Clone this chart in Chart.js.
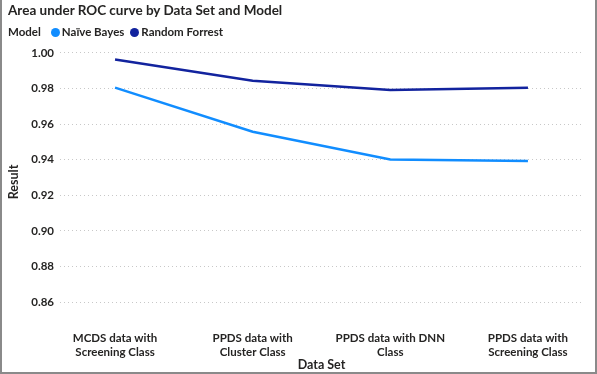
<!DOCTYPE html>
<html>
<head>
<meta charset="utf-8">
<script src="https://cdn.jsdelivr.net/npm/chart.js@4/dist/chart.umd.min.js"></script>
<style>
  body { margin: 0; background: #fff; }
  #wrap { position: relative; width: 597px; height: 374px; box-sizing: border-box; border-left: 2px solid #8a8a8a; border-right: 2px solid #8a8a8a; border-bottom: 2px solid #8a8a8a; font-family: Lato, sans-serif; }
  #title { position: absolute; left: 6px; top: 2px; font-size: 13.5px; font-weight: 700; color: #252423; white-space: nowrap; }
  #legend { position: absolute; left: 6px; top: 25px; font-size: 11.5px; font-weight: 700; color: #252423; white-space: nowrap; }
  #legend span.dot { display: inline-block; width: 9px; height: 9px; border-radius: 50%; vertical-align: -1px; margin-right: 2px; }
  #legend .item { margin-left: 6px; }
  #legend .first { margin-left: 10px; }
  canvas { position: absolute; left: 0; top: 0; }
</style>
</head>
<body>
<div id="wrap">
  <canvas id="grafico" width="593" height="372"></canvas>
  <div id="title">Area under ROC curve by Data Set and Model</div>
  <div id="legend"></div>
</div>
<script>
var categorias = [
  ["MCDS data with", "Screening Class"],
  ["PPDS data with", "Cluster Class"],
  ["PPDS data with DNN", "Class"],
  ["PPDS data with", "Screening Class"]
];
var naive_bayes = [0.9805, 0.9557, 0.9402, 0.9393];
var random_forrest = [0.9963, 0.9843, 0.9792, 0.9804];
var ticks_y = [0.86, 0.88, 0.90, 0.92, 0.94, 0.96, 0.98, 1.00];
var series = [
  { nombre: "Naïve Bayes", color: "#118DFF", datos: naive_bayes },
  { nombre: "Random Forrest", color: "#12239E", datos: random_forrest }
];

var leyenda = document.getElementById('legend');
var html = 'Model';
series.forEach(function (s, i) {
  html += '<span class="item' + (i == 0 ? ' first' : '') + '"><span class="dot" style="background:' + s.color + '"></span>' + s.nombre + '</span>';
});
leyenda.innerHTML = html;

var ctx = document.getElementById('grafico').getContext('2d');
var fuente = { family: "Lato, sans-serif", size: 11.5, weight: '700', lineHeight: 1.15 };
var fuente_titulo = { family: "Lato, sans-serif", size: 12.5, weight: '700' };

var chart_roc = new Chart(ctx, {
  type: 'line',
  data: {
    datasets: series.map(function (s) {
      return {
        label: s.nombre,
        data: s.datos.map(function (v, i) { return { x: i, y: v }; }),
        borderColor: s.color,
        backgroundColor: s.color,
        borderWidth: 2.5,
        pointRadius: 0,
        fill: false,
        tension: 0
      };
    })
  },
  options: {
    responsive: false,
    animation: false,
    layout: { padding: { left: 4, right: 12, top: 44, bottom: 0 } },
    plugins: { legend: { display: false }, tooltip: { enabled: false } },
    scales: {
      x: {
        type: 'linear',
        min: -0.4,
        max: 3.4,
        afterBuildTicks: function (axis) {
          axis.ticks = categorias.map(function (c, i) { return { value: i }; });
        },
        afterFit: function (axis) { axis.height = 52; },
        ticks: {
          autoSkip: false,
          maxRotation: 0,
          color: '#252423',
          font: fuente,
          padding: 4,
          callback: function (v) { return categorias[v]; }
        },
        grid: { display: false },
        border: { display: false },
        title: { display: true, text: 'Data Set', color: '#252423', font: fuente_titulo, padding: { top: -3, bottom: 0 } }
      },
      y: {
        min: 0.85,
        max: 1.005,
        afterBuildTicks: function (axis) {
          axis.ticks = ticks_y.map(function (v) { return { value: v }; });
        },
        afterFit: function (axis) { axis.width = 54; },
        ticks: {
          color: '#252423',
          font: fuente,
          padding: 6,
          callback: function (v) { return v.toFixed(2); }
        },
        grid: { color: '#c8c8c8', lineWidth: 1, drawTicks: false },
        border: { display: false, dash: [1, 3] },
        title: { display: true, text: 'Result', color: '#252423', font: fuente_titulo, padding: { top: 0, bottom: 4 } }
      }
    }
  }
});
</script>
</body>
</html>
